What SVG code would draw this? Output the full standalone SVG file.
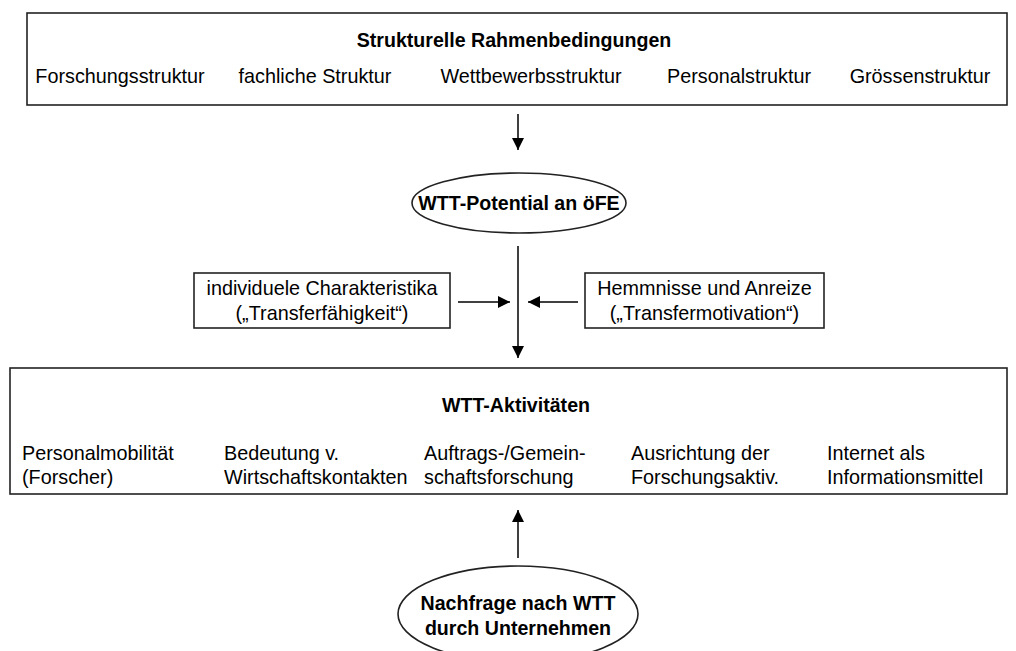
<svg xmlns="http://www.w3.org/2000/svg" width="1016" height="651" viewBox="0 0 1016 651">
<defs>
<style>
.box{fill:#fff;stroke:#222;stroke-width:1.6}
.t{font-family:"Liberation Sans",Arial,sans-serif;font-size:19.8px;fill:#000}
.b{font-family:"Liberation Sans",Arial,sans-serif;font-size:19.6px;font-weight:bold;fill:#000}
.c{text-anchor:middle}
.ln{stroke:#000;stroke-width:1.5;fill:none}
</style>
<marker id="ah" markerWidth="12" markerHeight="12" refX="10" refY="5" orient="auto" markerUnits="userSpaceOnUse" viewBox="0 0 10 10">
<path d="M0,0 L10,5 L0,10 Z" fill="#000"/>
</marker>
</defs>
<rect width="1016" height="651" fill="#fff"/>
<g id="strukturelle">
<rect class="box" x="27" y="13" width="980" height="92"/>
<text class="b c" x="514" y="47">Strukturelle Rahmenbedingungen</text>
<text class="t c" x="120" y="83">Forschungsstruktur</text>
<text class="t c" x="315" y="83">fachliche Struktur</text>
<text class="t c" x="531" y="83">Wettbewerbsstruktur</text>
<text class="t c" x="739" y="83">Personalstruktur</text>
<text class="t c" x="920" y="83">Grössenstruktur</text>
</g>
<g id="potential">
<ellipse class="box" cx="519" cy="203" rx="107" ry="30"/>
<text class="b c" x="519" y="210">WTT-Potential an öFE</text>
</g>
<g id="individuelle">
<rect class="box" x="194" y="273" width="256" height="55"/>
<text class="t c" x="322" y="295">individuele Charakteristika</text>
<text class="t c" x="322" y="320">(„Transferfähigkeit“)</text>
</g>
<g id="hemmnisse">
<rect class="box" x="585" y="273" width="239" height="55"/>
<text class="t c" x="704.5" y="295">Hemmnisse und Anreize</text>
<text class="t c" x="704.5" y="320">(„Transfermotivation“)</text>
</g>
<g id="aktivitaeten">
<rect class="box" x="10" y="368" width="997" height="126"/>
<text class="b c" x="516" y="412">WTT-Aktivitäten</text>
<text class="t" x="22" y="460">Personalmobilität</text>
<text class="t" x="22" y="484">(Forscher)</text>
<text class="t" x="224" y="460">Bedeutung v.</text>
<text class="t" x="224" y="484">Wirtschaftskontakten</text>
<text class="t" x="424" y="460">Auftrags-/Gemein-</text>
<text class="t" x="424" y="484">schaftsforschung</text>
<text class="t" x="631" y="460">Ausrichtung der</text>
<text class="t" x="631" y="484">Forschungsaktiv.</text>
<text class="t" x="827" y="460">Internet als</text>
<text class="t" x="827" y="484">Informationsmittel</text>
</g>
<g id="nachfrage">
<ellipse class="box" cx="518" cy="614" rx="120" ry="48"/>
<text class="b c" x="518" y="610">Nachfrage nach WTT</text>
<text class="b c" x="518" y="635">durch Unternehmen</text>
</g>
<g id="connectors">
<line class="ln" x1="518" y1="114" x2="518" y2="150" marker-end="url(#ah)"/>
<line class="ln" x1="518" y1="246" x2="518" y2="358" marker-end="url(#ah)"/>
<line class="ln" x1="458" y1="302" x2="510" y2="302" marker-end="url(#ah)"/>
<line class="ln" x1="578" y1="302" x2="528" y2="302" marker-end="url(#ah)"/>
<line class="ln" x1="518" y1="558" x2="518" y2="510" marker-end="url(#ah)"/>
</g>
</svg>
